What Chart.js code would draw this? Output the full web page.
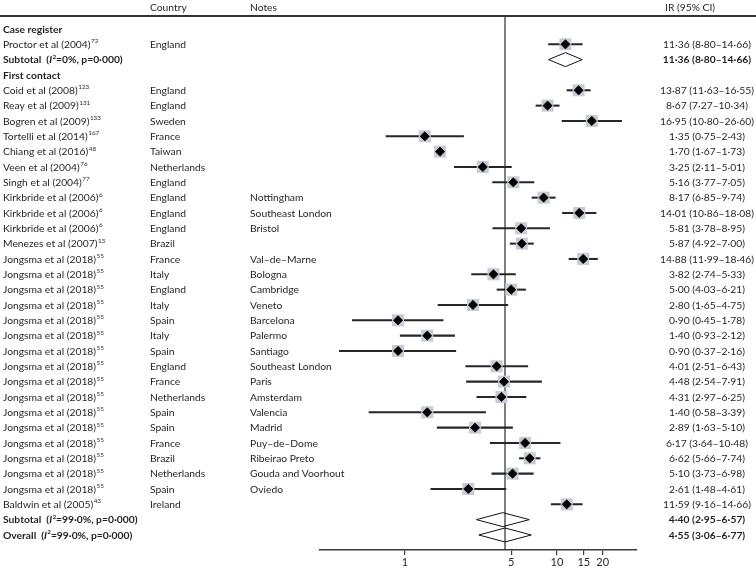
<!DOCTYPE html>
<html>
<head>
<meta charset="utf-8">
<script src="https://cdn.jsdelivr.net/npm/chart.js@4.4.0/dist/chart.umd.min.js"></script>
<style>
  html, body { margin: 0; padding: 0; background: #fff; }
</style>
</head>
<body>
<canvas id="forestChart" width="756" height="570"></canvas>
<script>
// one entry per row, top to bottom
const rowKinds = ['section', 'study', 'subtotal', 'section',
  'study', 'study', 'study', 'study', 'study', 'study', 'study',
  'study', 'study', 'study', 'study',
  'study', 'study', 'study', 'study', 'study', 'study', 'study', 'study',
  'study', 'study', 'study', 'study', 'study', 'study', 'study', 'study',
  'study', 'subtotal', 'overall'];

const studyNames = ['Case register', 'Proctor et al (2004)', 'Subtotal', 'First contact',
  'Coid et al (2008)', 'Reay et al (2009)', 'Bogren et al (2009)', 'Tortelli et al (2014)',
  'Chiang et al (2016)', 'Veen et al (2004)', 'Singh et al (2004)',
  'Kirkbride et al (2006)', 'Kirkbride et al (2006)', 'Kirkbride et al (2006)', 'Menezes et al (2007)',
  'Jongsma et al (2018)', 'Jongsma et al (2018)', 'Jongsma et al (2018)', 'Jongsma et al (2018)',
  'Jongsma et al (2018)', 'Jongsma et al (2018)', 'Jongsma et al (2018)', 'Jongsma et al (2018)',
  'Jongsma et al (2018)', 'Jongsma et al (2018)', 'Jongsma et al (2018)', 'Jongsma et al (2018)',
  'Jongsma et al (2018)', 'Jongsma et al (2018)', 'Jongsma et al (2018)', 'Jongsma et al (2018)',
  'Baldwin et al (2005)', 'Subtotal', 'Overall'];

const refNumbers = ['', '72', '', '', '123', '131', '133', '167', '48', '76', '77', '6', '6', '6', '13',
  '55', '55', '55', '55', '55', '55', '55', '55', '55', '55', '55', '55', '55', '55', '55', '55',
  '43', '', ''];

const countries = ['', 'England', '', '', 'England', 'England', 'Sweden', 'France', 'Taiwan',
  'Netherlands', 'England', 'England', 'England', 'England', 'Brazil',
  'France', 'Italy', 'England', 'Italy', 'Spain', 'Italy', 'Spain', 'England',
  'France', 'Netherlands', 'Spain', 'Spain', 'France', 'Brazil', 'Netherlands', 'Spain',
  'Ireland', '', ''];

const notes = ['', '', '', '', '', '', '', '', '', '', '',
  'Nottingham', 'Southeast London', 'Bristol', '',
  'Val–de–Marne', 'Bologna', 'Cambridge', 'Veneto', 'Barcelona', 'Palermo', 'Santiago', 'Southeast London',
  'Paris', 'Amsterdam', 'Valencia', 'Madrid', 'Puy–de–Dome', 'Ribeirao Preto', 'Gouda and Voorhout', 'Oviedo',
  '', '', ''];

const irValues = [null, 11.36, 11.36, null, 13.87, 8.67, 16.95, 1.35, 1.70, 3.25, 5.16,
  8.17, 14.01, 5.81, 5.87, 14.88, 3.82, 5.00, 2.80, 0.90, 1.40, 0.90, 4.01,
  4.48, 4.31, 1.40, 2.89, 6.17, 6.62, 5.10, 2.61, 11.59, 4.40, 4.55];
const ciLow = [null, 8.80, 8.80, null, 11.63, 7.27, 10.80, 0.75, 1.67, 2.11, 3.77,
  6.85, 10.86, 3.78, 4.92, 11.99, 2.74, 4.03, 1.65, 0.45, 0.93, 0.37, 2.51,
  2.54, 2.97, 0.58, 1.63, 3.64, 5.66, 3.73, 1.48, 9.16, 2.95, 3.06];
const ciHigh = [null, 14.66, 14.66, null, 16.55, 10.34, 26.60, 2.43, 1.73, 5.01, 7.05,
  9.74, 18.08, 8.95, 7.00, 18.46, 5.33, 6.21, 4.75, 1.78, 2.12, 2.16, 6.43,
  7.91, 6.25, 3.39, 5.10, 10.48, 7.74, 6.98, 4.61, 14.66, 6.57, 6.77];

// heterogeneity text for pooled rows
const hetText = { 2: '=0%, p=0·000)', 32: '=99·0%, p=0·000)', 33: '=99·0%, p=0·000)' };

const xTicks = [1, 5, 10, 15, 20];
const overallRow = 33;

const FONT = 'Lato, "Open Sans", sans-serif';
const TXT = '#231f20';

const rows = rowKinds.map((k, i) => i);
const studyRows = rows.filter(i => rowKinds[i] === 'study');
const pooledRows = rows.filter(i => rowKinds[i] === 'subtotal' || rowKinds[i] === 'overall');

const fmt = v => v.toFixed(2).replace('.', '·');

function drawHeaderRule(chart) {
  const { ctx, chartArea } = chart;
  ctx.save();
  ctx.fillStyle = '#333333';
  ctx.fillRect(0, Math.round(chartArea.top) - 1, 756, 2);
  ctx.restore();
}

const forestPlugin = {
  id: 'forestPlugin',
  beforeDatasetsDraw(chart) {
    const { ctx, chartArea, scales } = chart;
    drawHeaderRule(chart);
    ctx.save();
    // line at overall estimate
    const xo = scales.x.getPixelForValue(irValues[overallRow]);
    ctx.strokeStyle = '#3a3a3a';
    ctx.lineWidth = 1.3;
    ctx.beginPath();
    ctx.moveTo(xo, chartArea.top);
    ctx.lineTo(xo, chartArea.bottom);
    ctx.stroke();
    ctx.restore();
  },
  afterDatasetsDraw(chart) {
    const { ctx, scales } = chart;
    ctx.save();
    ctx.strokeStyle = '#111';
    ctx.lineWidth = 1;
    pooledRows.forEach(i => {
      const y = scales.y.getPixelForValue(i);
      const xl = scales.x.getPixelForValue(ciLow[i]);
      const xm = scales.x.getPixelForValue(irValues[i]);
      const xr = scales.x.getPixelForValue(ciHigh[i]);
      ctx.beginPath();
      ctx.moveTo(xl, y);
      ctx.lineTo(xm, y - 7);
      ctx.lineTo(xr, y);
      ctx.lineTo(xm, y + 7);
      ctx.closePath();
      ctx.stroke();
    });
    ctx.restore();
  },
  afterDraw(chart) {
    const { ctx, scales } = chart;
    drawHeaderRule(chart);
    ctx.save();
    ctx.fillStyle = TXT;
    ctx.textBaseline = 'middle';

    // column headers
    ctx.font = '10.3px ' + FONT;
    ctx.fillText('Country', 150, 8);
    ctx.fillText('Notes', 250, 8);
    ctx.fillText('IR (95% CI)', 665, 8);

    rows.forEach(i => {
      const y = scales.y.getPixelForValue(i) + 0.5;
      const kind = rowKinds[i];
      if (kind === 'section') {
        ctx.font = 'bold 10.3px ' + FONT;
        ctx.fillText(studyNames[i], 3, y);
        return;
      }
      if (kind === 'study') {
        ctx.font = '10.3px ' + FONT;
        ctx.fillText(studyNames[i], 3, y);
        const w = ctx.measureText(studyNames[i]).width;
        ctx.font = '6.3px ' + FONT;
        ctx.fillText(refNumbers[i], 3 + w + 0.5, y - 3.5);
        ctx.font = '10.3px ' + FONT;
        ctx.fillText(countries[i], 150, y);
        ctx.fillText(notes[i], 250, y);
      } else {
        // pooled label: Name  (I²=..., p=...)
        let x = 3;
        ctx.font = 'bold 10.3px ' + FONT;
        const head = studyNames[i] + '  (';
        ctx.fillText(head, x, y);
        x += ctx.measureText(head).width;
        ctx.font = 'italic bold 10.3px ' + FONT;
        ctx.fillText('I', x, y);
        x += ctx.measureText('I').width + 0.3;
        ctx.font = 'bold 6.3px ' + FONT;
        ctx.fillText('2', x, y - 3.5);
        x += ctx.measureText('2').width;
        ctx.font = 'bold 10.3px ' + FONT;
        ctx.fillText(hetText[i], x, y);
      }
      ctx.font = (kind === 'study' ? '' : 'bold ') + '10.3px ' + FONT;
      ctx.textAlign = 'center';
      ctx.fillText(fmt(irValues[i]) + ' (' + fmt(ciLow[i]) + '–' + fmt(ciHigh[i]) + ')', 707, y);
      ctx.textAlign = 'left';
    });
    ctx.restore();
  }
};

const ctx = document.getElementById('forestChart').getContext('2d');

const forestChart = new Chart(ctx, {
  type: 'bar',
  data: {
    datasets: [
      {
        type: 'bar',
        label: '95% CI',
        data: studyRows.map(i => ({ x: [ciLow[i], ciHigh[i]], y: i })),
        backgroundColor: '#262626',
        barThickness: 1.4,
        order: 3
      },
      {
        type: 'scatter',
        label: 'Weight',
        data: studyRows.map(i => ({ x: irValues[i], y: i })),
        pointStyle: 'rect',
        pointRadius: 8.5,
        backgroundColor: '#c5ccd5',
        borderWidth: 0,
        order: 2
      },
      {
        type: 'scatter',
        label: 'IR',
        data: studyRows.map(i => ({ x: irValues[i], y: i })),
        pointStyle: 'rectRot',
        pointRadius: 4.6,
        backgroundColor: '#000',
        borderColor: '#000',
        borderWidth: 0.8,
        order: 1
      }
    ]
  },
  options: {
    indexAxis: 'y',
    responsive: false,
    animation: false,
    events: [],
    layout: { padding: { left: 320, right: 119, top: 16, bottom: 0 } },
    plugins: {
      legend: { display: false },
      tooltip: { enabled: false }
    },
    scales: {
      x: {
        type: 'logarithmic',
        min: 0.276,
        max: 33.6,
        offset: false,
        afterBuildTicks: scale => {
          scale.ticks = xTicks.map(v => ({ value: v }));
        },
        ticks: {
          callback: v => String(v),
          font: { family: FONT, size: 11, lineHeight: 1 },
          color: TXT,
          padding: 2,
          autoSkip: false,
          maxRotation: 0
        },
        grid: { drawOnChartArea: false, tickLength: 5, color: '#3a3a3a', lineWidth: 1.2, offset: false },
        border: { color: '#3a3a3a', width: 1.5 }
      },
      y: {
        type: 'linear',
        min: -0.845,
        max: 33.98,
        reverse: true,
        offset: false,
        display: false
      }
    }
  },
  plugins: [forestPlugin]
});
</script>
</body>
</html>
